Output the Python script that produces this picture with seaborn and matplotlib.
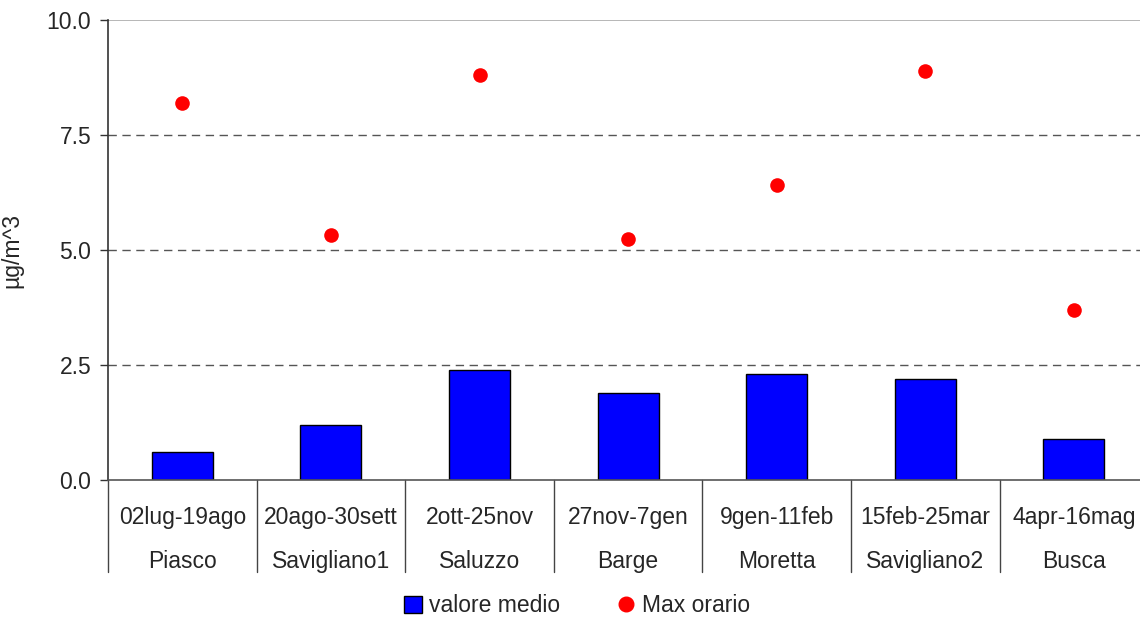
import seaborn as sns
import pandas as pd
import matplotlib.pyplot as plt
from matplotlib.lines import Line2D
from matplotlib.patches import Patch
from matplotlib.ticker import FormatStrFormatter

# data
periodi = ['02lug-19ago', '20ago-30sett', '2ott-25nov', '27nov-7gen',
           '9gen-11feb', '15feb-25mar', '4apr-16mag']
siti = ['Piasco', 'Savigliano1', 'Saluzzo', 'Barge',
        'Moretta', 'Savigliano2', 'Busca']
valore_medio = [0.6, 1.2, 2.4, 1.9, 2.3, 2.2, 0.9]
max_orario = [8.2, 5.33, 8.8, 5.24, 6.42, 8.9, 3.7]

df = pd.DataFrame({'periodo': periodi, 'sito': siti,
                   'medio': valore_medio, 'max': max_orario})

sns.set_style('white')
plt.rcParams['font.family'] = ['Liberation Sans', 'DejaVu Sans']

fig = plt.figure(figsize=(11.4, 6.2), dpi=100)
ax = fig.add_axes([108 / 1140, 1 - 480 / 620, 1 - 108 / 1140, 460 / 620])

sns.barplot(data=df, x='periodo', y='medio', color='#0000FF',
            edgecolor='black', linewidth=1, width=0.41, saturation=1, ax=ax)
sns.stripplot(data=df, x='periodo', y='max', color='#FF0000', size=10.5,
              jitter=False, linewidth=0, zorder=5, ax=ax)

ax.set_ylim(0, 10)
ax.set_xlim(-0.5, -0.5 + (1140 - 108) / 148.6)
ax.set_yticks([0, 2.5, 5, 7.5, 10])
ax.yaxis.set_major_formatter(FormatStrFormatter('%.1f'))
ax.tick_params(axis='y', length=6, width=1, color='#333333', labelsize=16.5, pad=6, left=True)
ax.tick_params(axis='x', length=0, labelsize=16.5, pad=19)
ax.set_xticks(range(len(periodi)))
ax.set_xticklabels([p + '\n' + s for p, s in zip(periodi, siti)], linespacing=2.17)
for t in ax.get_xticklabels():
    t.set_verticalalignment('top')
ax.set_xlabel('')
ax.set_ylabel('µg/m^3', fontsize=16.5, labelpad=17)

for y in [2.5, 5, 7.5]:
    ax.axhline(y, color='#555555', linestyle=(0, (6, 4)), linewidth=1, zorder=0)
ax.axhline(10, color='#aaaaaa', linewidth=1.2, zorder=0)

for side in ['top', 'right']:
    ax.spines[side].set_visible(False)
ax.spines['left'].set_color('#333333')
ax.spines['bottom'].set_color('#555555')
ax.spines['left'].set_linewidth(1.2)
ax.spines['bottom'].set_linewidth(1.2)

# category separators below the axis
trans = ax.get_xaxis_transform()
for k in range(len(periodi) + 1):
    ax.plot([k - 0.5, k - 0.5], [0, -0.2], color='#444444', lw=1,
            transform=trans, clip_on=False)

handles = [Patch(facecolor='#0000FF', edgecolor='black', linewidth=1),
           Line2D([], [], marker='o', linestyle='', color='#FF0000', markersize=10.5)]
fig.legend(handles, ['valore medio', 'Max orario'], loc='center',
           bbox_to_anchor=(577 / 1140, 1 - 606 / 620), ncol=2, frameon=False,
           fontsize=16.5, handlelength=0.8, handleheight=0.8, handletextpad=0.3,
           columnspacing=2.5, borderpad=0.2)

fig.savefig('out.png', dpi=100)
